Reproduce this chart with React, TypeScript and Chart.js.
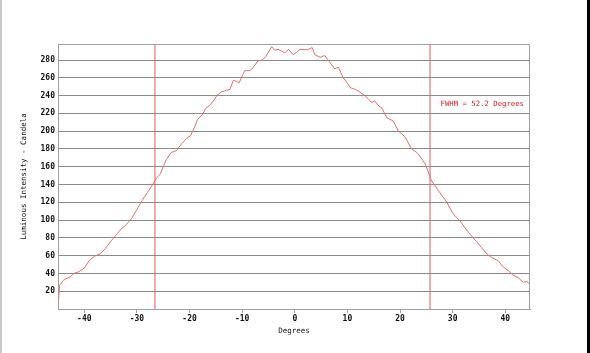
import React, { useEffect, useRef } from "react";
import { Chart, registerables } from "chart.js";

Chart.register(...registerables);

const degrees = [
  -45, -44.7, -44, -43.5, -42.7, -42, -41, -40, -39, -38, -37, -36, -35, -34, -33, -32, -31, -30, -29, -28, -27,
  -26.2, -25.6, -25, -24.4, -23.5, -22.5, -21.5, -20.5, -19.8, -19, -18.5, -17.5, -17, -16, -15.5, -14.8, -14, -13,
  -12.3, -11.7, -11, -10.6, -10, -9.5, -8.5, -8, -7, -6.2, -5.5, -4.4, -3.8, -3.2, -2.5, -1.9, -1.2, -0.3, 0.4, 1, 2,
  2.6, 3.3, 3.8, 4.8, 5.7, 6.2, 6.7, 7.6, 8.3, 9.2, 10, 10.5, 11.5, 12.1, 13.3, 14, 14.6, 15.2, 16, 16.5, 17.5, 18.7,
  19.7, 20.5, 21, 22.2, 23.2, 24, 24.8, 26, 27.3, 28.9, 30, 30.5, 31.4, 32.5, 33.6, 34.5, 35.5, 36.5, 37.4, 38.7, 39.5,
  40.6, 41.5, 42.5, 43.4, 44.1, 44.7,
];
const candela = [
  0, 26.5, 32, 34, 36, 40, 42, 46, 55, 59.5, 62, 68, 76, 83, 90, 95, 102, 112, 122, 131, 140,
  148, 151.5, 160, 168, 176, 178, 186, 192, 195, 205, 213, 219, 225, 230, 234, 240, 244, 246,
  247, 257, 256, 254, 262, 268, 268, 271, 279, 280, 284, 295, 291, 292, 290, 288, 292, 286, 289, 292, 291.5,
  292, 294, 286, 283, 285, 281, 277, 270, 272, 260, 254, 249, 247, 245, 240, 236, 232, 234, 228, 226.5, 215, 211.5,
  200, 196, 193, 180, 176, 170, 163, 144, 133, 120, 108, 104.5, 99, 90, 82, 76, 69, 62, 58, 54, 48,
  43, 38, 35, 30, 31, 27.6,
];
const fwhmBounds = [-26.58, 25.7];
const fwhmLabel = "FWHM = 52.2 Degrees";
const yTicks = [20, 40, 60, 80, 100, 120, 140, 160, 180, 200, 220, 240, 260, 280];
const xTicks = [-40, -30, -20, -10, 0, 10, 20, 30, 40];
const yMax = 298;

const MONO = '"DejaVu Sans Mono", monospace';

export default function App() {
  const ref = useRef<HTMLCanvasElement | null>(null);

  useEffect(() => {
    if (!ref.current) return;
    const borderPlugin = {
      id: "frame",
      afterDraw(chart: any) {
        const { ctx, chartArea } = chart;
        ctx.save();
        ctx.strokeStyle = "#a0a0a0";
        ctx.lineWidth = 1;
        ctx.beginPath();
        ctx.moveTo(chartArea.left + 0.5, chartArea.bottom);
        ctx.lineTo(chartArea.left + 0.5, chartArea.top + 0.5);
        ctx.lineTo(chartArea.right - 0.5, chartArea.top + 0.5);
        ctx.lineTo(chartArea.right - 0.5, chartArea.bottom);
        ctx.stroke();
        ctx.font = `7.3px ${MONO}`;
        ctx.fillStyle = "#d02020";
        ctx.textAlign = "right";
        ctx.textBaseline = "middle";
        ctx.fillText(fwhmLabel, chartArea.right - 6, 104);
        ctx.restore();
      },
    };

    const chart = new Chart(ref.current, {
      type: "line",
      data: {
        datasets: [
          {
            data: degrees.map((d, i) => ({ x: d, y: candela[i] })),
            borderColor: "rgb(226,110,110)",
            borderWidth: 1,
            pointRadius: 0,
            tension: 0,
          },
          {
            data: [
              { x: fwhmBounds[0], y: 0 },
              { x: fwhmBounds[0], y: yMax },
            ],
            borderColor: "rgb(215,95,95)",
            borderWidth: 1,
            pointRadius: 0,
          },
          {
            data: [
              { x: fwhmBounds[1], y: 0 },
              { x: fwhmBounds[1], y: yMax },
            ],
            borderColor: "rgb(215,95,95)",
            borderWidth: 1,
            pointRadius: 0,
          },
        ],
      },
      options: {
        responsive: false,
        animation: false,
        events: [],
        layout: { padding: { left: 0, right: 60, top: 44, bottom: 0 } },
        plugins: { legend: { display: false }, tooltip: { enabled: false } },
        scales: {
          x: {
            type: "linear",
            min: -45,
            max: 44.7,
            afterFit: (s: any) => {
              s.height = 44;
            },
            afterBuildTicks: (s: any) => {
              s.ticks = xTicks.map((v) => ({ value: v }));
            },
            ticks: {
              color: "#111",
              font: { family: MONO, size: 8, weight: "bold" },
              padding: 1,
              maxRotation: 0,
              callback: (v: any) => String(v),
            },
            grid: {
              drawOnChartArea: false,
              drawTicks: true,
              tickLength: 4,
              color: "#a0a0a0",
            },
            border: { color: "#a0a0a0" },
            title: {
              display: true,
              text: "Degrees",
              color: "#111",
              font: { family: MONO, size: 7.5 },
              padding: { top: 0, bottom: 17 },
            },
          },
          y: {
            type: "linear",
            min: 0,
            max: yMax,
            afterFit: (s: any) => {
              s.width = 58;
            },
            afterBuildTicks: (s: any) => {
              s.ticks = [{ value: 0 }, ...yTicks.map((v) => ({ value: v }))];
            },
            ticks: {
              color: "#111",
              font: { family: MONO, size: 8, weight: "bold" },
              padding: 3,
              callback: (v: any) => (v === 0 ? "" : String(v)),
            },
            grid: {
              drawTicks: false,
              color: "#8a8a8a",
            },
            border: { color: "#a0a0a0" },
            title: {
              display: true,
              text: "Luminous Intensity - Candela",
              color: "#111",
              font: { family: MONO, size: 7.5 },
              padding: { top: 20, bottom: 0 },
            },
          },
        },
      },
      plugins: [borderPlugin],
    } as any);
    return () => chart.destroy();
  }, []);

  return (
    <div style={{ position: "absolute", left: 0, top: 0, width: 590, height: 353, background: "#fff" }}>
      <canvas ref={ref} width={590} height={353} style={{ position: "absolute", left: 0, top: 0 }} />
      <div style={{ position: "absolute", left: 0, top: 0, width: 2, height: 353, background: "#c8c8c8" }} />
      <div style={{ position: "absolute", left: 587, top: 0, width: 3, height: 353, background: "#000" }} />
    </div>
  );
}
